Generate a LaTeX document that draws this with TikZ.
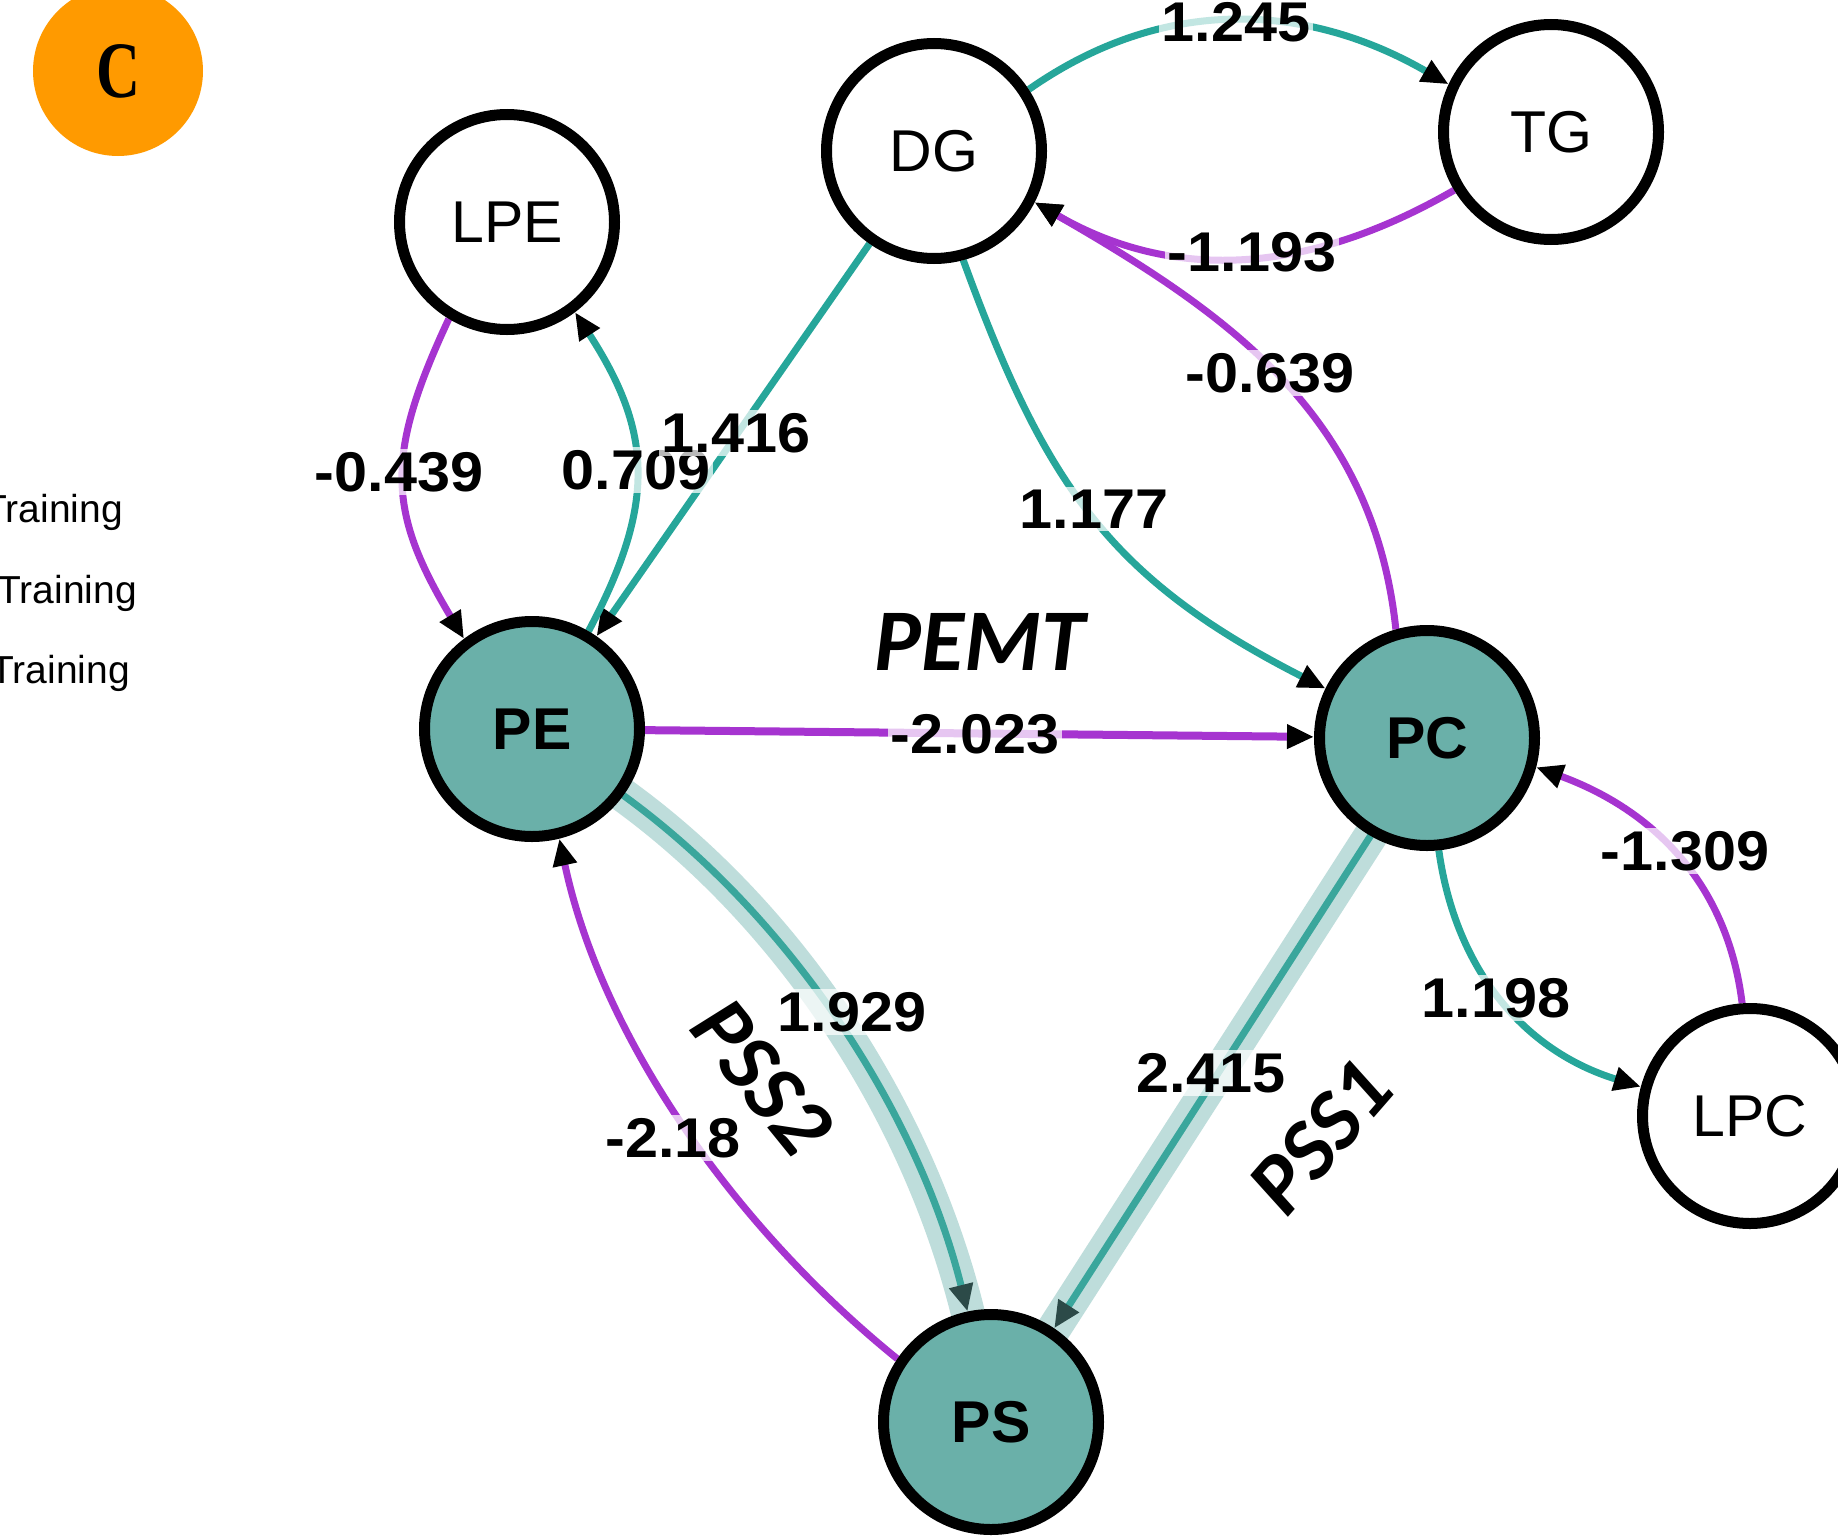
\documentclass[tikz,border=0pt]{standalone}
\usepackage{fontspec}
\setmainfont{Liberation Sans}
\newfontfamily\lblfont{Liberation Sans}[FakeStretch=1.06]
\newfontfamily\genefont{Carlito}
\newfontfamily\badgefont{Liberation Serif}
\usetikzlibrary{arrows.meta,backgrounds}

\definecolor{tealedge}{RGB}{38,166,154}
\definecolor{tealfill}{RGB}{106,176,169}
\definecolor{purpedge}{RGB}{166,52,208}
\definecolor{haloband}{RGB}{190,221,219}
\definecolor{haloline}{RGB}{58,166,156}
\definecolor{halotip}{RGB}{44,74,72}
\definecolor{badge}{RGB}{255,154,0}

\begin{document}
\begin{tikzpicture}[x=1pt,y=1pt,
  met/.style={circle, draw=black, line width=11pt, minimum size=215pt,
    inner sep=0pt, font=\fontsize{59}{59}\selectfont},
  minor/.style={met, fill=white},
  major/.style={met, fill=tealfill, font=\fontsize{59}{59}\selectfont\bfseries},
  tipped/.style={-{Triangle[length=27pt,width=23pt,color=black]}},
  posedge/.style={draw=tealedge, line width=7pt, tipped},
  negedge/.style={draw=purpedge, line width=7pt, tipped},
  bandpath/.style={draw=haloband, line width=34pt, line cap=round},
  bandline/.style={draw=haloline, line width=7pt,
    -{Triangle[length=27pt,width=23pt,color=halotip]}},
  lbl/.style={fill=white, fill opacity=0.72, text opacity=1, inner sep=3pt,
    font=\lblfont\fontsize{56}{56}\selectfont\bfseries},
  gene/.style={inner sep=0pt, font=\genefont\fontsize{86}{86}\selectfont\bfseries\itshape},
  side/.style={anchor=base east, inner sep=0pt, font=\fontsize{39}{39}\selectfont}
]
\useasboundingbox (0,0) rectangle (1838,-1539);

% metabolite nodes
\node[minor] (LPE) at (507,-222) {LPE};
\node[minor] (DG)  at (934,-151) {DG};
\node[minor] (TG)  at (1551,-132) {TG};
\node[major] (PE)  at (532,-729) {PE};
\node[major] (PC)  at (1427,-738) {PC};
\node[major] (PS)  at (991,-1422) {PS};
\node[minor] (LPC) at (1750,-1116) {LPC};

% panel badge and cropped legend entries
\node[circle, fill=badge, minimum size=170pt, inner sep=0pt] (badgeC) at (118,-71)
  {\badgefont\bfseries\fontsize{80}{80}\selectfont\scalebox{0.76}[1]{C}};
\node[side] (tr1) at (123,-522) {Training};
\node[side] (tr2) at (137,-603) {Training};
\node[side] (tr3) at (130,-683) {Training};

\begin{scope}[on background layer]
  \fill[white] (0,0) rectangle (1838,-1539);
  % highlighted synthase routes
  \draw[bandpath] (PE.324) to[out=-36,in=104,looseness=0.85] (PS.102);
  \draw[bandpath] (PC.240) -- (PS.56);
  \draw[bandline] (PE.324) to[out=-36,in=104,looseness=0.85] (PS.102);
  \draw[bandline] (PC.240) -- (PS.56);
  % glycerolipid loop
  \draw[posedge] (DG.33) to[out=35,in=150] (TG.155);
  \draw[negedge] (TG.211) to[out=210,in=330] (DG.333);
  \draw[negedge] (PC.106) to[out=96,in=330] (DG.333);
  \draw[posedge] (DG) -- (PE);
  \draw[posedge] (DG.285) to[out=-70,in=153,looseness=1.1] (PC.154);
  % lyso species
  \draw[negedge] (LPE.239) to[out=245,in=121,looseness=1.2] (PE.127);
  \draw[posedge] (PE.60) to[out=62,in=303,looseness=1.15] (LPE.307);
  \draw[posedge] (PC.276) to[out=-82,in=163] (LPC.165);
  \draw[negedge] (LPC.94) to[out=97,in=340] (PC.345);
  % phospholipid conversions
  \draw[negedge, line width=8pt] (PE) -- (PC);
  \draw[negedge] (PS.146) to[out=141,in=282,looseness=0.85] (PE.284);
\end{scope}

% edge weights
\node[lbl] (w1) at (1236,-22) {1.245};
\node[lbl] (w2) at (1252,-252) {-1.193};
\node[lbl] (w3) at (1270,-373) {-0.639};
\node[lbl] (w4) at (399,-472) {-0.439};
\node[lbl] (w5) at (636,-470) {0.709};
\node[lbl] (w6) at (736,-433) {1.416};
\node[lbl] (w7) at (1094,-509) {1.177};
\node[lbl] (w8) at (975,-734) {-2.023};
\node[lbl] (w9) at (852,-1012) {1.929};
\node[lbl] (w10) at (673,-1138) {-2.18};
\node[lbl] (w11) at (1211,-1073) {2.415};
\node[lbl] (w12) at (1496,-998) {1.198};
\node[lbl] (w13) at (1685,-851) {-1.309};

% enzyme names
\node[gene, font=\genefont\fontsize{88}{88}\selectfont\bfseries\itshape] (pemt) at (980,-642) {PEMT};
\node[gene, rotate=-51] (pss2) at (762,-1077) {PSS2};
\node[gene, rotate=49] (pss1) at (1321,-1137) {PSS1};
\end{tikzpicture}
\end{document}
